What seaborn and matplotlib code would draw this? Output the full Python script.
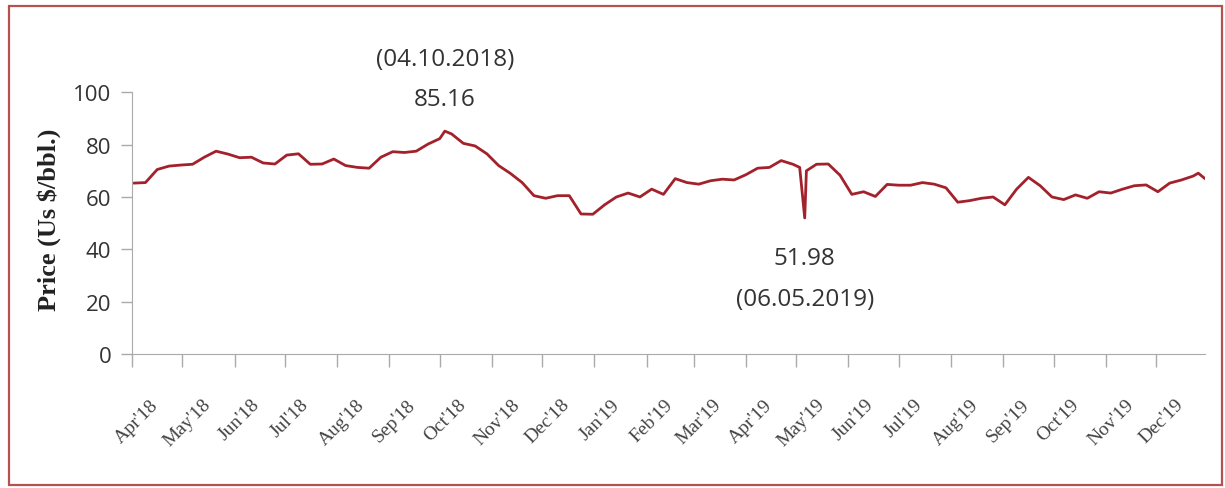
import pandas as pd
import matplotlib.pyplot as plt
from matplotlib.patches import Rectangle
import seaborn as sns

# weekly readings (Mondays) of the price line, US $/bbl
weeks = pd.date_range('2018-04-02', periods=92, freq='W-MON')
weekly_price = [65.3, 65.5, 70.5, 71.8, 72.2, 72.5, 75.2, 77.5, 76.4, 75.0,
                75.2, 73.0, 72.6, 76.0, 76.5, 72.5, 72.6, 74.5, 72.0, 71.3,
                71.0, 75.2, 77.3, 77.0, 77.5, 80.2, 82.3, 84.1, 80.5, 79.5,
                76.5, 72.0, 69.0, 65.5, 60.5, 59.5, 60.5, 60.5, 53.5, 53.4,
                57.0, 60.0, 61.5, 60.0, 63.0, 61.0, 67.0, 65.5, 64.9, 66.2,
                66.8, 66.5, 68.5, 71.0, 71.3, 73.9, 72.5, 51.98, 72.5, 72.6,
                68.3, 61.0, 62.0, 60.2, 64.8, 64.5, 64.5, 65.5, 64.9, 63.5,
                58.0, 58.6, 59.5, 60.0, 57.0, 63.0, 67.5, 64.3, 60.0, 59.0,
                60.8, 59.5, 62.0, 61.5, 63.0, 64.3, 64.6, 62.0, 65.3, 66.5,
                68.0, 67.0]

# extra days around the peak and the dip
extra_dates = pd.to_datetime(['2018-10-04', '2019-05-03', '2019-05-07', '2019-12-26'])
extra_price = [85.16, 71.3, 70.0, 69.1]

month_ticks = pd.date_range('2018-04-01', '2019-12-01', freq='MS')
month_labels = ["Apr'18", "May'18", "Jun'18", "Jul'18", "Aug'18", "Sep'18", "Oct'18",
                "Nov'18", "Dec'18", "Jan'19", "Feb'19", "Mar'19", "Apr'19", "May'19",
                "Jun'19", "Jul'19", "Aug'19", "Sep'19", "Oct'19", "Nov'19", "Dec'19"]

peak_date, peak_val, peak_label = pd.Timestamp('2018-10-04'), 85.16, '(04.10.2018)'
low_date, low_val, low_label = pd.Timestamp('2019-05-06'), 51.98, '(06.05.2019)'

df = pd.DataFrame({'date': list(weeks) + list(extra_dates),
                   'price': weekly_price + extra_price}).sort_values('date')

sns.set_style('ticks')
fig = plt.figure(figsize=(12.25, 4.89), dpi=100)
ax = fig.add_axes([132 / 1225, 1 - 355 / 489, 1073 / 1225, (355 - 93.3) / 489])

sns.lineplot(data=df, x='date', y='price', color='#a3212b', linewidth=2.0, ax=ax)

ax.set_xlim(pd.Timestamp('2018-04-01'), pd.Timestamp('2019-12-30'))
ax.set_ylim(0, 100)
ax.set_yticks([0, 20, 40, 60, 80, 100])

# tick marks at the month starts, labels sit a little to the right of them
ax.set_xticks(month_ticks, minor=True)
ax.set_xticks(month_ticks + pd.Timedelta(days=3))
ax.set_xticklabels(month_labels, rotation=45, ha='center', va='top',
                   family='Liberation Serif', fontsize=14, color='#444444')
for t in ax.get_yticklabels():
    t.set_family('Open Sans')
    t.set_fontsize(16)
    t.set_color('#333333')

ax.tick_params(axis='x', which='major', length=0, pad=30)
ax.tick_params(axis='x', which='minor', length=9, width=1, color='#aaaaaa')
ax.tick_params(axis='y', length=8, width=1, color='#aaaaaa', pad=7)
sns.despine(ax=ax)
for s in ['left', 'bottom']:
    ax.spines[s].set_color('#aaaaaa')

ax.set_xlabel('')
ax.set_ylabel('Price (Us $/bbl.)', family='Liberation Serif', fontweight='bold',
              fontsize=19, color='#222222')
ax.yaxis.set_label_coords(-0.066, 0.516)

ax.text(peak_date, 97.4, f'{peak_val:.2f}', ha='center', va='center',
        family='Open Sans', fontsize=17.5, color='#333333', clip_on=False)
ax.text(peak_date, 112.7, peak_label, ha='center', va='center',
        family='Open Sans', fontsize=17.5, color='#333333', clip_on=False)
ax.text(low_date, 36.7, f'{low_val:.2f}', ha='center', va='center',
        family='Open Sans', fontsize=17.5, color='#333333')
ax.text(low_date, 21.0, low_label, ha='center', va='center',
        family='Open Sans', fontsize=17.5, color='#333333')

fig.patches.append(Rectangle((9 / 1225, 1 - 486 / 489), 1213 / 1225, 479 / 489,
                             transform=fig.transFigure, fill=False,
                             edgecolor='#b5524f', linewidth=1.6))

fig.savefig('out.png', dpi=100)
